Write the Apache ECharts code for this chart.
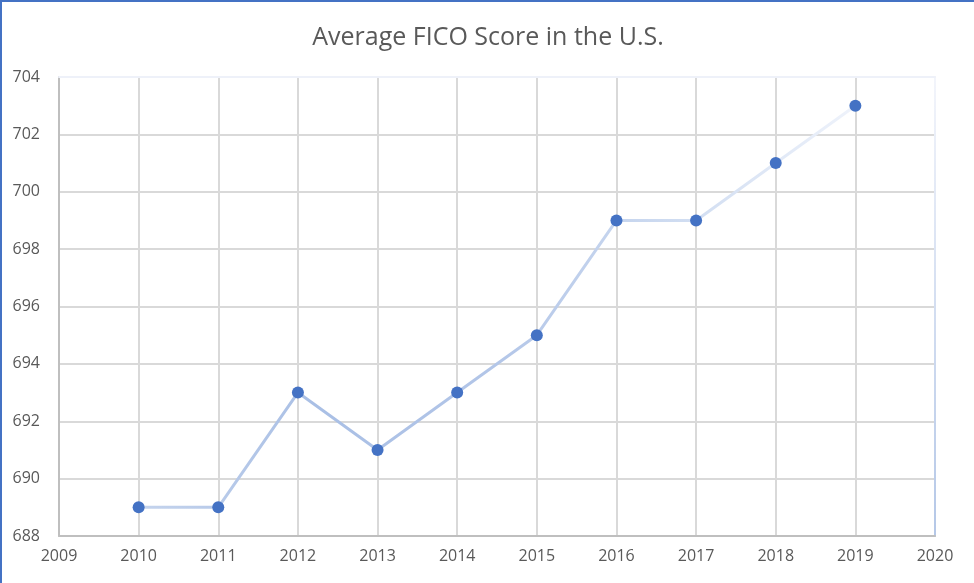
<!DOCTYPE html>
<html><head><meta charset="utf-8">
<script src="https://cdn.jsdelivr.net/npm/echarts@6/dist/echarts.min.js"></script>
<style>
html,body{margin:0;padding:0;background:#fff;}
#c{width:974px;height:583px;box-sizing:border-box;border-top:2px solid #4472C4;border-left:2px solid #4472C4;}
</style></head>
<body><div id="c"></div>
<script>
const years = [2010, 2011, 2012, 2013, 2014, 2015, 2016, 2017, 2018, 2019];
const scores = [689, 689, 693, 691, 693, 695, 699, 699, 701, 703];
const title = 'Average FICO Score in the U.S.';

const chart = echarts.init(document.getElementById('c'));
const lbl = {color:'#595959', fontSize:16, fontFamily:'"Open Sans", Calibri, sans-serif'};
chart.setOption({
  animation:false,
  title:{text:title, left:'center', top:18, textStyle:{color:'#595959', fontSize:25, fontWeight:'normal', fontFamily:'"Open Sans", sans-serif'}},
  grid:{left:57, right:39, top:75, bottom:47},
  xAxis:[{type:'value', min:2009, max:2020, interval:1,
    axisLine:{show:true, lineStyle:{color:'#bfbfbf', width:2}},
    axisTick:{show:false},
    axisLabel:Object.assign({margin:12, formatter:v=>String(v)}, lbl),
    splitLine:{show:true, lineStyle:{color:'#d9d9d9', width:2}}},
    {type:'value', position:'top', min:2009, max:2020, interval:1,
    axisLine:{show:true, lineStyle:{color:'#eef1f9', width:2}},
    axisTick:{show:false}, axisLabel:{show:false}, splitLine:{show:false}}],
  yAxis:[{type:'value', min:688, max:704, interval:2,
    axisLine:{show:true, lineStyle:{color:'#bfbfbf', width:2}},
    axisTick:{show:false},
    axisLabel:Object.assign({margin:19}, lbl),
    splitLine:{show:true, lineStyle:{color:'#d9d9d9', width:2}}},
    {type:'value', position:'right', min:688, max:704, interval:2,
    axisLine:{show:true, lineStyle:{width:2, color:new echarts.graphic.LinearGradient(0,0,0,1,[{offset:0,color:'#f3f5fb'},{offset:1,color:'#b4c7e7'}])}},
    axisTick:{show:false}, axisLabel:{show:false}, splitLine:{show:false}}],
  series:[{type:'line', data:years.map((y,i)=>[y,scores[i]]),
    symbol:'circle', symbolSize:12,
    itemStyle:{color:'#4472C4'},
    lineStyle:{width:3, color:new echarts.graphic.LinearGradient(0,0,1,0,[
      {offset:0,color:'#c5d4ed'},{offset:0.25,color:'#a9bfe5'},{offset:0.5,color:'#b3c6e8'},{offset:0.75,color:'#cfdcf1'},{offset:1,color:'#eff3fb'}])},
    z:5}]
});
</script></body></html>
